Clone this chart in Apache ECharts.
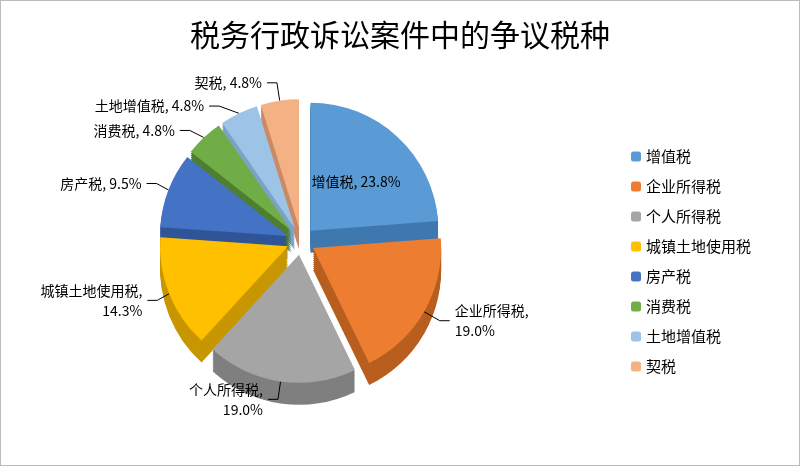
<!DOCTYPE html>
<html><head><meta charset="utf-8">
<script src="https://cdn.jsdelivr.net/npm/echarts@6/dist/echarts.min.js"></script>
<style>html,body{margin:0;padding:0;background:#fff}#c{width:798px;height:464px;border:1px solid #bbb}</style>
</head><body><div id="c"></div>
<script>
const categories=['增值税','企业所得税','个人所得税','城镇土地使用税','房产税','消费税','土地增值税','契税'];
const values=[23.8,19.0,19.0,14.3,9.5,4.8,4.8,4.8];
const colors=['#5B9BD5','#ED7D31','#A5A5A5','#FFC000','#4472C4','#70AD47','#9DC3E6','#F4B183'];
const sideColors=['#3F78AE','#B85E1F','#7F7F7F','#C79600','#2F5597','#4E7F30','#7BA3C6','#C98A66'];
const chart=echarts.init(document.getElementById('c'));
const cx=300, cy=240, r=128, depth=22;
const series=[];
series.push({type:'pie',name:'top',z:10,center:[cx,cy],radius:[0,r],startAngle:90,clockwise:true,
  selectedMode:'multiple',selectedOffset:14,
  label:{formatter:p=>{const v=values[p.dataIndex].toFixed(1)+'%';return p.dataIndex===3||p.dataIndex===1||p.dataIndex===2?p.name+',\n'+v:p.name+', '+v;},
    color:'#000',fontSize:14,lineHeight:20,fontFamily:'Noto Sans CJK SC'},
  labelLine:{lineStyle:{color:'#000'},length:18,length2:10},
  data:categories.map((c,i)=>({name:c,value:values[i],selected:true,itemStyle:{color:colors[i]},
    label:i===0?{position:'inside'}:undefined}))});
for(let k=depth;k>=1;k-=2){
  series.push({type:'pie',silent:true,z:2,center:[cx,cy+k],radius:[0,r],startAngle:90,clockwise:true,
    selectedMode:'multiple',selectedOffset:14,label:{show:false},labelLine:{show:false},
    data:categories.map((c,i)=>({name:c,value:values[i],selected:true,itemStyle:{color:sideColors[i]}})),
    legendHoverLink:false});
}
chart.setOption({
  backgroundColor:'#fff',
  animation:false,
  title:{text:'税务行政诉讼案件中的争议税种',left:'center',top:14,
    textStyle:{fontSize:30,fontWeight:'normal',color:'#000',fontFamily:'Noto Sans CJK SC'}},
  legend:{orient:'vertical',left:625,top:143,itemWidth:10,itemHeight:10,itemGap:15,
    data:categories.map((c,i)=>({name:c,itemStyle:{color:colors[i]}})),
    textStyle:{fontSize:15,color:'#000',fontFamily:'Noto Sans CJK SC'},selectedMode:false},
  series:series
});
</script></body></html>
